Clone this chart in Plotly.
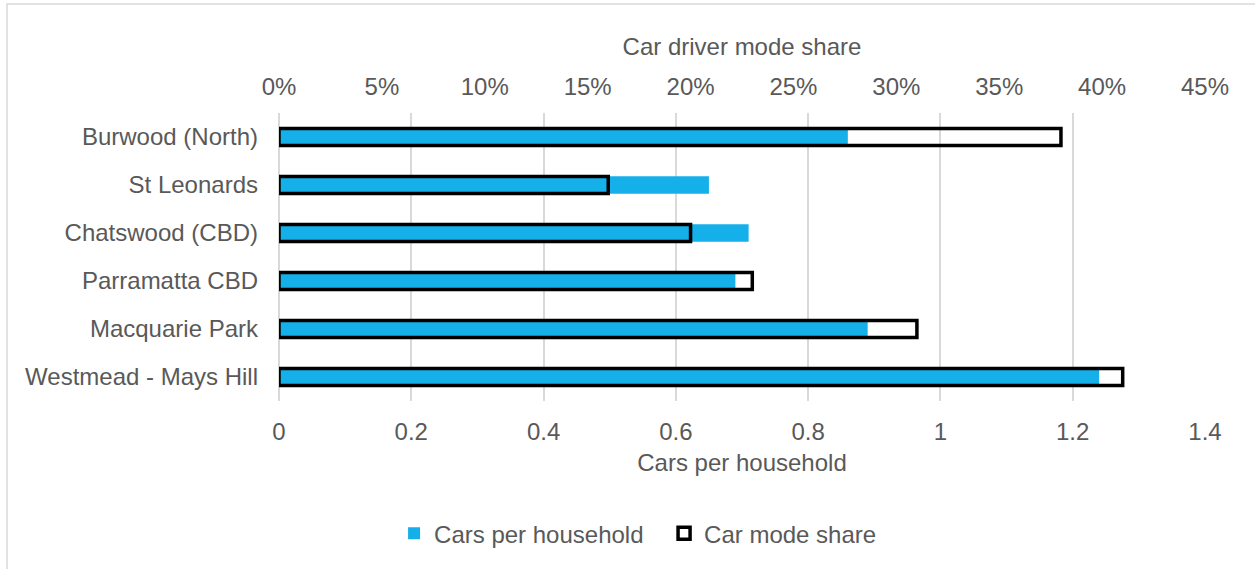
import plotly.graph_objects as go

# Areas, listed top to bottom
areas = [
    "Burwood (North)",
    "St Leonards",
    "Chatswood (CBD)",
    "Parramatta CBD",
    "Macquarie Park",
    "Westmead - Mays Hill",
]
cars_per_household = [0.86, 0.65, 0.71, 0.69, 0.89, 1.24]
car_mode_share = [0.38, 0.16, 0.20, 0.23, 0.31, 0.41]

household_ticks = [0, 0.2, 0.4, 0.6, 0.8, 1.0, 1.2, 1.4]
household_ticktext = ["0", "0.2", "0.4", "0.6", "0.8", "1", "1.2", "1.4"]
share_ticks = [0, 0.05, 0.10, 0.15, 0.20, 0.25, 0.30, 0.35, 0.40, 0.45]
share_ticktext = ["0%", "5%", "10%", "15%", "20%", "25%", "30%", "35%", "40%", "45%"]

BLUE = "#15B0E9"
TEXT = "#595959"
GRID = "#D9D9D9"
FONT = "Liberation Sans, Arial, sans-serif"

fig = go.Figure()

fig.add_trace(go.Bar(
    y=areas,
    x=cars_per_household,
    orientation="h",
    name="Cars per household",
    marker=dict(color=BLUE, line=dict(width=0)),
    width=0.36,
    xaxis="x",
    yaxis="y",
))

fig.add_trace(go.Bar(
    y=areas,
    x=car_mode_share,
    orientation="h",
    name="Car mode share",
    marker=dict(color="rgba(0,0,0,0)", line=dict(color="black", width=3.5)),
    width=0.35,
    xaxis="x2",
    yaxis="y",
))

fig.update_layout(
    width=1255,
    height=569,
    margin=dict(l=279, r=50, t=113, b=168),
    paper_bgcolor="white",
    plot_bgcolor="white",
    barmode="overlay",
    font=dict(family=FONT, size=24, color=TEXT),
    showlegend=True,
    legend=dict(
        orientation="h",
        xref="container",
        yref="container",
        x=0.314,
        xanchor="left",
        y=0.062,
        yanchor="middle",
        font=dict(size=24, color=TEXT),
        itemwidth=30,
        entrywidth=225,
        entrywidthmode="pixels",
        traceorder="normal",
    ),
    xaxis=dict(
        range=[0, 1.4],
        tickvals=household_ticks,
        ticktext=household_ticktext,
        showgrid=True,
        gridcolor=GRID,
        gridwidth=1.5,
        zeroline=True,
        zerolinecolor=GRID,
        zerolinewidth=1.5,
        showline=False,
        ticks="",
        ticklabelstandoff=14,
        title=dict(text="Cars per household", standoff=10, font=dict(size=24, color=TEXT)),
        fixedrange=True,
    ),
    xaxis2=dict(
        range=[0, 0.45],
        overlaying="x",
        side="top",
        tickvals=share_ticks,
        ticktext=share_ticktext,
        showgrid=False,
        zeroline=False,
        showline=False,
        ticks="",
        ticklabelstandoff=12,
        title=dict(text="Car driver mode share", standoff=10, font=dict(size=24, color=TEXT)),
        fixedrange=True,
    ),
    yaxis=dict(
        autorange="reversed",
        showgrid=False,
        zeroline=False,
        showline=False,
        ticks="",
        ticklabelstandoff=20,
        fixedrange=True,
    ),
)

# Light chart frame
fig.add_shape(
    type="rect",
    xref="paper", yref="paper",
    x0=(7 - 279) / 926, x1=(1262 - 279) / 926,
    y0=-(575 - 401) / 288, y1=(401 - 4) / 288,
    line=dict(color=GRID, width=1.5),
    fillcolor="rgba(0,0,0,0)",
    layer="below",
)

fig.write_html("out.html")
